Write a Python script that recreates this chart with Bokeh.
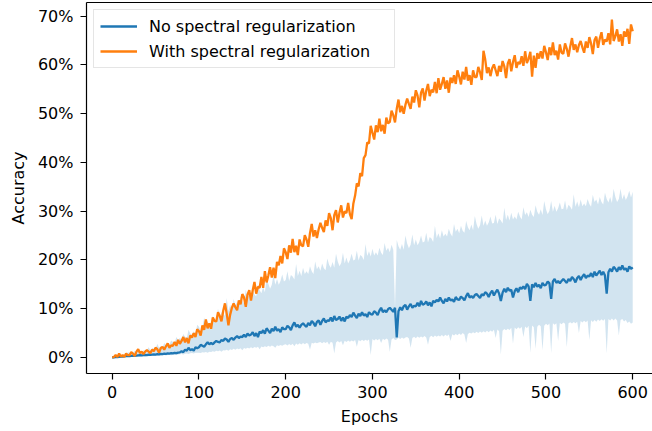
from bokeh.plotting import figure
from bokeh.models import (Range1d, FixedTicker, PrintfTickFormatter, LinearAxis,
                          Legend, LegendItem, ColumnDataSource)
from bokeh.embed import file_html
from bokeh.resources import INLINE

# ---------------- data, every 2 epochs ----------------
epochs = list(range(0, 601, 2))

with_reg = [
    0.0, 0.1, 0.5, 0.1, 0.8, 0.2, 0.5, 0.1, 0.8, 0.5,
    0.5, 1.1, 0.8, 0.3, 1.2, 1.7, 0.9, 1.2, 0.7, 1.2,
    1.5, 1.2, 0.9, 1.6, 1.3, 2.0, 1.7, 1.0, 1.9, 2.2,
    1.6, 2.3, 2.9, 2.0, 2.5, 2.4, 3.2, 2.4, 3.6, 2.8,
    3.4, 4.2, 3.1, 4.0, 2.9, 4.5, 4.1, 5.0, 4.2, 5.8,
    5.4, 4.5, 6.6, 5.7, 7.8, 6.0, 7.0, 5.9, 8.2, 7.5,
    7.4, 9.3, 8.5, 7.4, 9.6, 11.1, 9.0, 6.6, 8.8, 10.2,
    11.1, 10.3, 9.7, 11.7, 10.9, 13.0, 12.3, 10.4, 12.9, 13.8,
    11.7, 13.8, 15.5, 13.1, 14.5, 14.3, 16.5, 14.3, 17.7, 15.4,
    16.8, 18.5, 16.4, 18.4, 16.3, 19.6, 18.9, 20.8, 19.3, 22.4,
    21.6, 20.2, 23.0, 21.5, 24.3, 21.6, 22.9, 21.0, 24.2, 23.0,
    22.8, 25.1, 24.2, 22.7, 25.5, 27.4, 24.8, 26.1, 24.5, 26.3,
    27.6, 26.6, 25.7, 28.1, 27.0, 29.6, 28.6, 26.1, 29.2, 30.2,
    27.7, 29.7, 31.2, 28.7, 30.0, 29.6, 31.7, 29.4, 28.4, 31.6,
    33.2, 35.7, 35.1, 37.8, 37.2, 40.9, 41.5, 44.1, 43.9, 47.5,
    46.1, 44.7, 47.6, 46.2, 49.0, 46.4, 47.7, 45.9, 49.2, 48.0,
    48.3, 50.6, 49.7, 48.2, 51.0, 52.9, 50.3, 51.6, 50.0, 51.8,
    53.1, 52.0, 51.0, 53.5, 52.3, 54.8, 53.7, 51.3, 54.3, 55.2,
    52.7, 54.7, 56.1, 53.6, 54.9, 54.4, 56.5, 54.2, 57.3, 54.9,
    56.1, 57.5, 55.1, 56.8, 54.3, 57.4, 56.3, 57.9, 56.1, 58.9,
    57.6, 56.0, 58.6, 57.0, 59.6, 56.8, 57.9, 55.9, 58.9, 57.5,
    57.5, 59.6, 58.5, 56.9, 62.9, 61.1, 58.3, 59.5, 57.7, 59.3,
    60.1, 58.9, 57.7, 59.8, 58.6, 60.8, 59.7, 57.3, 60.3, 61.2,
    58.7, 60.6, 62.0, 59.4, 60.6, 60.2, 61.8, 59.8, 62.8, 60.4,
    61.3, 62.7, 57.6, 61.9, 59.4, 62.4, 61.3, 62.8, 61.3, 63.9,
    62.6, 61.0, 63.6, 62.0, 64.6, 62.0, 62.9, 61.1, 64.2, 62.5,
    62.3, 64.4, 63.3, 61.7, 63.8, 65.5, 63.1, 64.2, 62.6, 64.1,
    64.9, 63.6, 62.5, 64.8, 63.5, 65.7, 64.4, 62.2, 65.1, 65.8,
    63.5, 65.4, 66.7, 64.1, 65.2, 64.8, 66.5, 64.2, 69.3, 64.9,
    65.9, 67.3, 64.8, 66.3, 63.9, 66.9, 65.8, 67.4, 64.3, 68.3,
    66.9,
]

no_reg = [
    0.0, 0.05, 0.1, 0.1, 0.15, 0.2, 0.2, 0.25, 0.3, 0.3,
    0.3, 0.35, 0.4, 0.35, 0.4, 0.45, 0.5, 0.45, 0.5, 0.55,
    0.5, 0.6, 0.55, 0.6, 0.65, 0.6, 0.7, 0.65, 0.75, 0.7,
    0.8, 0.75, 0.85, 0.8, 0.9, 0.85, 0.95, 0.9, 1.0, 1.05,
    1.3, 1.1, 1.6, 1.4, 2.0, 1.5, 1.7, 1.4, 2.1, 1.9,
    2.1, 2.6, 2.4, 2.2, 2.7, 3.1, 2.7, 3.0, 2.7, 3.1,
    3.4, 3.2, 3.1, 3.6, 3.4, 3.9, 3.7, 3.2, 3.8, 4.0,
    3.6, 4.1, 4.4, 4.0, 4.3, 4.2, 4.7, 4.2, 4.9, 4.5,
    4.7, 5.2, 4.4, 5.0, 4.2, 5.3, 5.0, 5.6, 4.9, 6.0,
    5.5, 5.0, 5.9, 5.4, 6.3, 5.5, 5.8, 5.2, 6.2, 5.8,
    5.8, 6.5, 6.2, 5.6, 6.6, 7.2, 6.3, 6.7, 6.1, 6.7,
    7.0, 6.6, 6.3, 7.1, 6.6, 7.5, 7.1, 6.4, 7.3, 7.6,
    6.7, 7.5, 8.0, 7.2, 7.6, 7.5, 8.2, 7.4, 8.5, 7.7,
    7.9, 8.4, 7.5, 8.2, 7.4, 8.4, 8.1, 8.7, 8.3, 9.2,
    8.6, 8.1, 9.0, 8.5, 9.3, 8.6, 8.9, 8.3, 9.3, 8.9,
    8.8, 9.5, 9.2, 8.7, 9.6, 10.2, 9.3, 9.7, 9.3, 9.9,
    10.2, 9.8, 9.4, 10.2, 4.1, 9.5, 10.3, 9.7, 10.5, 10.8,
    9.8, 10.5, 11.0, 10.2, 10.6, 10.5, 11.2, 10.5, 11.6, 10.8,
    11.0, 11.5, 10.7, 11.3, 10.5, 11.6, 11.3, 11.8, 11.5, 12.3,
    11.6, 11.1, 12.0, 11.5, 12.3, 11.7, 11.9, 11.4, 12.4, 11.9,
    11.8, 12.5, 12.2, 11.7, 12.6, 13.2, 12.3, 12.6, 12.2, 12.8,
    13.0, 12.6, 12.2, 13.0, 12.7, 13.4, 13.1, 12.4, 13.2, 13.7,
    12.7, 13.4, 13.9, 13.1, 11.6, 13.3, 14.1, 13.4, 14.3, 13.7,
    13.9, 12.3, 13.6, 14.2, 13.4, 14.4, 14.1, 14.6, 14.0, 15.1,
    14.6, 11.6, 15.0, 14.4, 15.3, 14.5, 14.9, 14.2, 15.3, 14.8,
    14.9, 15.6, 15.2, 12.0, 15.6, 16.1, 15.3, 15.7, 15.2, 15.7,
    16.1, 15.7, 15.3, 16.1, 15.7, 16.5, 16.1, 15.4, 16.3, 16.7,
    15.9, 16.6, 17.1, 16.3, 16.8, 16.6, 17.3, 16.5, 17.6, 16.8,
    17.3, 17.8, 16.9, 17.6, 16.8, 13.1, 17.5, 18.2, 17.6, 18.6,
    18.2, 17.6, 18.5, 18.0, 18.9, 18.0, 18.3, 17.6, 18.7, 18.2,
    18.5,
]

no_reg_upper = [
    0.0, 0.3, 0.2, 0.2, 0.7, 0.5, 0.5, 0.7, 0.6, 1.1,
    0.9, 0.7, 0.9, 1.4, 1.0, 1.2, 1.0, 1.2, 1.5, 1.2,
    1.5, 2.1, 1.5, 1.9, 1.8, 1.6, 2.8, 2.0, 2.3, 2.0,
    3.0, 2.5, 2.9, 2.7, 3.5, 3.2, 3.0, 4.2, 3.6, 4.0,
    3.7, 4.8, 4.2, 4.0, 5.7, 4.9, 4.6, 5.4, 4.7, 6.7,
    6.3, 5.5, 6.2, 8.2, 6.3, 7.5, 6.5, 7.3, 8.5, 7.3,
    7.9, 10.0, 7.9, 9.3, 9.0, 8.5, 12.2, 9.5, 10.8, 9.6,
    12.0, 10.6, 11.4, 10.7, 12.6, 11.6, 11.1, 13.9, 12.3, 13.0,
    12.3, 13.9, 12.9, 12.5, 15.0, 13.8, 13.2, 14.5, 13.4, 16.3,
    15.1, 14.1, 14.9, 17.0, 14.9, 16.1, 14.9, 15.7, 17.0, 15.6,
    15.9, 17.7, 15.7, 16.9, 16.6, 16.0, 19.2, 16.7, 17.8, 16.7,
    18.4, 17.1, 17.7, 17.1, 18.7, 17.7, 17.1, 19.7, 18.1, 18.7,
    17.8, 19.3, 18.3, 17.9, 20.3, 19.0, 18.4, 19.6, 18.4, 21.3,
    19.7, 18.7, 19.4, 21.5, 19.3, 20.5, 19.3, 20.0, 21.3, 19.9,
    20.1, 21.9, 19.9, 21.0, 20.7, 20.0, 23.3, 20.8, 21.8, 20.7,
    22.3, 20.9, 21.6, 20.9, 22.5, 21.5, 21.0, 23.5, 21.9, 22.5,
    21.6, 23.1, 22.1, 10.3, 24.1, 22.8, 22.1, 23.3, 22.1, 25.0,
    23.4, 22.4, 23.1, 25.2, 23.0, 24.2, 23.0, 23.7, 25.0, 23.6,
    23.8, 25.6, 23.6, 24.7, 24.4, 23.7, 27.0, 24.5, 25.5, 24.4,
    26.1, 24.8, 25.4, 24.8, 26.4, 25.4, 24.8, 27.4, 25.8, 26.4,
    25.5, 27.0, 26.0, 25.6, 28.0, 26.7, 26.1, 27.3, 26.1, 29.0,
    27.4, 26.4, 27.1, 29.1, 27.0, 28.1, 27.0, 27.7, 28.9, 27.5,
    27.6, 29.3, 27.4, 28.5, 28.1, 27.5, 30.7, 28.2, 29.3, 28.1,
    29.7, 28.3, 28.9, 28.3, 29.9, 28.9, 28.3, 30.8, 29.2, 29.8,
    28.8, 30.3, 29.3, 28.8, 31.2, 29.9, 29.3, 30.4, 29.2, 32.1,
    30.4, 29.4, 30.1, 32.1, 29.9, 31.1, 29.9, 30.6, 31.8, 30.4,
    30.5, 32.2, 30.2, 31.3, 30.9, 30.3, 33.5, 30.9, 32.0, 30.8,
    32.4, 31.0, 31.6, 31.0, 32.5, 31.5, 30.9, 33.4, 31.9, 32.4,
    31.4, 32.9, 31.9, 31.4, 33.8, 32.5, 31.8, 32.9, 31.7, 34.6,
    32.9, 31.9, 32.5, 34.6, 32.4, 33.5, 32.3, 33.0, 34.2, 32.8,
    34.0,
]

no_reg_lower = [
    0.0, 0.0, 0.0, 0.05, 0.05, 0.05, 0.1, 0.1, 0.1, 0.1,
    0.1, 0.15, 0.1, 0.15, 0.2, 0.15, 0.2, 0.2, 0.25, 0.2,
    0.3, 0.25, 0.3, 0.35, 0.3, 0.35, 0.4, 0.35, 0.4, 0.45,
    0.5, 0.4, 0.5, 0.55, 0.45, 0.55, 0.6, 0.5, 0.6, 0.65,
    0.7, 0.6, 0.75, 0.8, 0.7, 0.85, 0.9, 0.8, 0.95, 1.0,
    1.0, 0.9, 1.1, 1.05, 1.15, 1.0, 1.2, 1.15, 1.3, 1.2,
    1.4, 1.3, 1.45, 1.2, 1.5, 1.45, 1.6, 1.4, 1.7, 1.55,
    1.8, 1.6, 1.85, 1.7, 1.9, 1.5, 1.95, 1.8, 2.0, 1.85,
    2.1, 1.9, 2.15, 2.0, 2.2, 1.7, 2.25, 2.1, 2.3, 2.15,
    2.4, 2.2, 2.45, 2.3, 2.0, 2.5, 2.35, 2.55, 2.4, 2.6,
    2.7, 2.45, 2.75, 2.5, 2.8, 2.3, 2.85, 2.6, 2.9, 2.65,
    3.0, 2.7, 3.0, 2.8, 1.6, 3.05, 2.85, 3.1, 2.9, 3.1,
    3.2, 2.9, 3.2, 3.0, 3.25, 2.6, 3.25, 3.05, 0.8, 3.1,
    3.4, 3.1, 3.4, 2.5, 3.45, 3.2, 3.5, 3.25, 3.5, 3.3,
    3.6, 2.2, 3.6, 3.35, 3.65, 3.4, 3.65, 3.45, 3.7, 0.5,
    3.8, 3.5, 3.8, 3.55, 3.85, 3.0, 3.85, 3.6, 3.9, 3.65,
    1.2, 3.7, 4.0, 3.6, 3.7, 4.05, 3.8, 4.1, 3.85, 4.1,
    4.2, 3.9, 2.0, 4.0, 4.25, 3.95, 4.3, 4.05, 4.3, 4.1,
    4.4, 4.1, 2.6, 4.2, 4.45, 4.15, 4.5, 4.25, 4.5, 4.3,
    4.6, 4.3, 4.65, 4.4, 4.7, 3.4, 4.75, 4.5, 4.8, 4.55,
    4.9, 4.6, 5.0, 4.7, 3.0, 4.8, 5.1, 4.9, 5.2, 4.95,
    5.3, 5.0, 5.35, 5.1, 5.4, 5.15, 5.5, 5.2, 5.55, 5.3,
    5.7, 4.0, 5.75, 5.4, 0.6, 5.5, 5.85, 5.6, 5.9, 5.65,
    6.1, 2.8, 6.15, 5.8, 6.2, 5.9, 6.3, 4.2, 6.35, 6.0,
    6.5, 1.0, 6.55, 6.2, 1.8, 6.3, 6.7, 6.4, 1.5, 6.5,
    6.9, 6.6, 6.95, 0.9, 7.0, 6.7, 7.05, 3.4, 7.1, 6.8,
    7.2, 6.9, 2.1, 7.0, 7.25, 6.95, 7.3, 7.05, 7.35, 5.0,
    7.5, 7.2, 7.55, 7.25, 7.6, 3.6, 7.65, 7.3, 7.7, 7.35,
    7.8, 7.5, 7.85, 7.55, 7.9, 0.8, 7.9, 7.6, 8.0, 7.6,
    8.0, 7.6, 4.5, 7.7, 7.9, 7.4, 7.7, 7.1, 7.4, 6.9,
    7.2,
]

x_ticks = [0, 100, 200, 300, 400, 500, 600]
y_ticks = [0, 10, 20, 30, 40, 50, 60, 70]
series_labels = ["No spectral regularization", "With spectral regularization"]

# ---------------- figure ----------------
FONT = "DejaVu Sans"
FS = "16px"
BLUE = "#1f77b4"
ORANGE = "#ff7f0e"

src = ColumnDataSource(dict(epoch=epochs, w=with_reg, n=no_reg,
                            lo=no_reg_lower, hi=no_reg_upper))

p = figure(width=652, height=431, output_backend="svg", toolbar_location=None,
           x_range=Range1d(-29.6, 622.8), y_range=Range1d(-3.28, 72.8),
           min_border_left=86, min_border_right=0, min_border_top=2,
           min_border_bottom=58)
p.outline_line_color = None
p.xgrid.visible = False
p.ygrid.visible = False
p.background_fill_color = "white"
p.border_fill_color = "white"

p.varea(x="epoch", y1="lo", y2="hi", source=src, fill_color=BLUE, fill_alpha=0.2)
r_blue = p.line(x="epoch", y="n", source=src, line_color=BLUE, line_width=2.3)
r_orange = p.line(x="epoch", y="w", source=src, line_color=ORANGE, line_width=2.3)

for ax in (p.xaxis[0], p.yaxis[0]):
    ax.axis_line_color = "black"
    ax.axis_line_width = 1.2
    ax.major_tick_line_color = "black"
    ax.major_tick_line_width = 1.2
    ax.major_tick_out = 6
    ax.major_tick_in = 0
    ax.minor_tick_line_color = None
    ax.major_label_text_font = FONT
    ax.major_label_text_font_size = FS
    ax.major_label_text_color = "black"
    ax.axis_label_text_font = FONT
    ax.axis_label_text_font_size = FS
    ax.axis_label_text_font_style = "normal"
    ax.axis_label_text_color = "black"

p.xaxis.ticker = FixedTicker(ticks=x_ticks)
p.yaxis.ticker = FixedTicker(ticks=y_ticks)
p.yaxis.formatter = PrintfTickFormatter(format="%d%%")
p.xaxis.axis_label = "Epochs"
p.yaxis.axis_label = "Accuracy"
p.xaxis.major_label_standoff = 6
p.xaxis.axis_label_standoff = 6
p.yaxis.major_label_standoff = 7
p.yaxis.axis_label_standoff = 7

# top spine
top = LinearAxis(ticker=FixedTicker(ticks=[]), axis_line_color="black",
                 axis_line_width=1.2, major_tick_out=0, major_tick_in=0,
                 minor_tick_out=0, minor_tick_in=0, major_label_standoff=0,
                 major_label_text_font_size="0px")
p.add_layout(top, "above")

legend = Legend(items=[LegendItem(label=series_labels[0], renderers=[r_blue]),
                       LegendItem(label=series_labels[1], renderers=[r_orange])],
                location="top_left", margin=7, padding=6, spacing=5,
                glyph_width=37, glyph_height=20, label_height=20,
                label_width=239, label_standoff=12,
                label_text_font=FONT, label_text_font_size=FS,
                label_text_color="black",
                border_line_color="#cccccc", border_line_width=1,
                background_fill_color="white", background_fill_alpha=0.8)
p.add_layout(legend)

open("out.html", "w").write(file_html(p, INLINE))
